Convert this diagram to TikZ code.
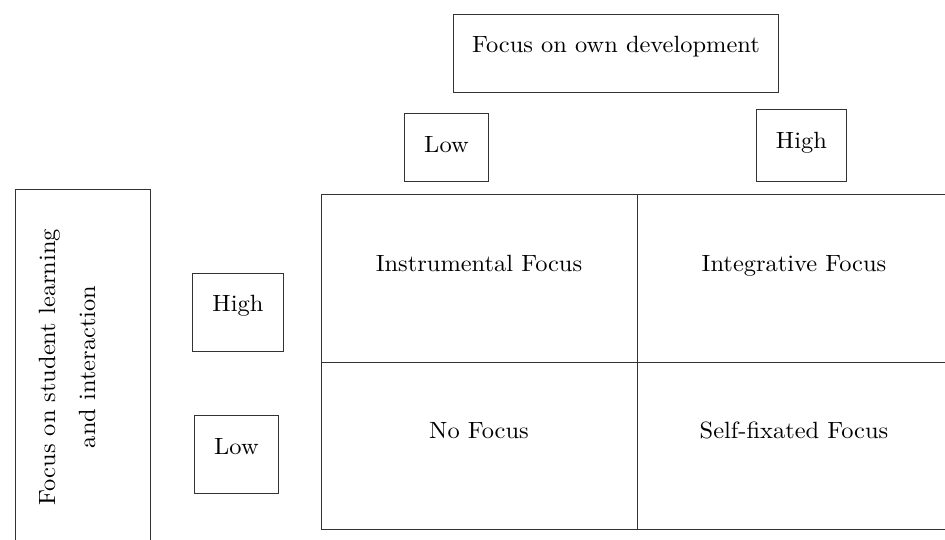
\documentclass[tikz,border=0pt]{standalone}
\usepackage{fontspec}
\setmainfont{lmroman10-regular.otf}[FakeStretch=1.04]
\begin{document}
\begin{tikzpicture}[x=1pt,y=-1pt,
  txt/.style={font=\fontsize{23.5}{28}\selectfont},
  box/.style={draw=black!80, line width=0.9pt, inner sep=0pt, txt},
  lbl/.style={inner sep=0pt, txt},
  gridline/.style={draw=black!80, line width=0.9pt}]
\useasboundingbox (0,0) rectangle (945,539);
% top axis
\node[box, anchor=north west, minimum width=325pt, text height=38pt, text depth=40pt] (own) at (453,14) {Focus on own development};
\node[box, anchor=north west, minimum width=84pt, text height=39pt, text depth=29pt] (tlow) at (404,113) {Low};
\node[box, anchor=north west, minimum width=90pt, text height=39pt, text depth=33pt] (thigh) at (756,109) {High};
% left axis
\node[box, anchor=north west, minimum width=135pt, minimum height=400pt] (axis) at (15,189) {};
\node[lbl, rotate=90, align=center, font=\fontsize{23.5}{40}\selectfont] (axistext) at (67,367) {Focus on student learning\\and interaction};
\node[box, anchor=north west, minimum width=91pt, text height=38pt, text depth=40pt] (lhigh) at (192,273) {High};
\node[box, anchor=north west, minimum width=84pt, text height=39pt, text depth=39pt] (llow) at (194,415) {Low};
% grid
\coordinate (gNW) at (321,194);
\coordinate (gSE) at (960,529);
\coordinate (gTM) at (637,194);
\coordinate (gBM) at (637,529);
\coordinate (gLM) at (321,362);
\coordinate (gRM) at (960,362);
\draw[gridline] (gNW) rectangle (gSE);
\draw[gridline] (gTM) -- (gBM);
\draw[gridline] (gLM) -- (gRM);
\node[lbl, anchor=base] (instr) at (479,271) {Instrumental Focus};
\node[lbl, anchor=base] (integ) at (794,271) {Integrative Focus};
\node[lbl, anchor=base] (nofoc) at (479,438) {No Focus};
\node[lbl, anchor=base] (selff) at (794,438) {Self-fixated Focus};
\end{tikzpicture}
\end{document}
